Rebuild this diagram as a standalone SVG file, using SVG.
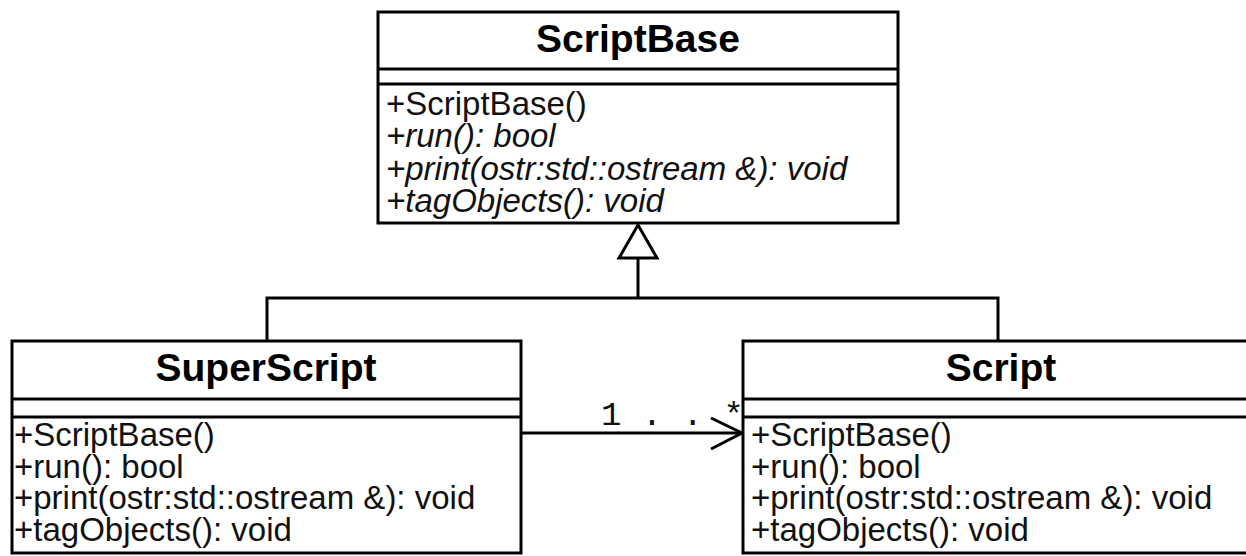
<svg xmlns="http://www.w3.org/2000/svg" width="1246" height="556" viewBox="0 0 1246 556">
  <style>
    .box { fill: #ffffff; stroke: #000; stroke-width: 3; }
    .sep { stroke: #000; stroke-width: 3; fill: none; }
    .title { font-family: "Liberation Sans", Arial, sans-serif; font-weight: bold; font-size: 39px; fill: #000; text-anchor: middle; }
    .op { font-family: "Liberation Sans", Arial, sans-serif; font-size: 33px; fill: #111; }
    .abs { font-style: italic; }
    .edge { stroke: #000; stroke-width: 3; fill: none; }
    .mult { font-family: "Liberation Mono", "Courier New", monospace; font-size: 34px; fill: #111; }
  </style>

  <rect width="1246" height="556" fill="#ffffff"/>

  <!-- connectors -->
  <g id="connectors">
    <!-- generalisation: SuperScript and Script derive from ScriptBase -->
    <polyline class="edge" points="267,341 267,298 998,298 998,341"/>
    <line class="edge" x1="638" y1="298" x2="638" y2="258"/>
    <polygon points="638,225 619,258 657,258" fill="#ffffff" stroke="#000" stroke-width="3" stroke-linejoin="miter"/>
    <!-- directed association SuperScript -> Script -->
    <line class="edge" x1="521" y1="433" x2="742" y2="433"/>
    <polyline class="edge" points="711,418 742,433 711,449"/>
    <text class="mult" x="601" y="425">1 . . *</text>
  </g>

  <!-- abstract base class -->
  <g id="ScriptBase">
    <rect class="box" x="378" y="12" width="520" height="211"/>
    <line class="sep" x1="378" y1="69" x2="898" y2="69"/>
    <line class="sep" x1="378" y1="84" x2="898" y2="84"/>
    <text class="title" x="638" y="52">ScriptBase</text>
    <text class="op" x="386" y="115">+ScriptBase()</text>
    <text class="op abs" x="386" y="147">+run(): bool</text>
    <text class="op abs" x="386" y="180">+print(ostr:std::ostream &amp;): void</text>
    <text class="op abs" x="386" y="212">+tagObjects(): void</text>
  </g>

  <g id="SuperScript">
    <rect class="box" x="12" y="341" width="509" height="212"/>
    <line class="sep" x1="12" y1="399" x2="521" y2="399"/>
    <line class="sep" x1="12" y1="417" x2="521" y2="417"/>
    <text class="title" x="266" y="381">SuperScript</text>
    <text class="op" x="14" y="446">+ScriptBase()</text>
    <text class="op" x="14" y="478">+run(): bool</text>
    <text class="op" x="14" y="509">+print(ostr:std::ostream &amp;): void</text>
    <text class="op" x="14" y="541">+tagObjects(): void</text>
  </g>

  <g id="Script">
    <rect class="box" x="743" y="341" width="520" height="212"/>
    <line class="sep" x1="743" y1="399" x2="1263" y2="399"/>
    <line class="sep" x1="743" y1="417" x2="1263" y2="417"/>
    <text class="title" x="1001" y="381">Script</text>
    <text class="op" x="751" y="446">+ScriptBase()</text>
    <text class="op" x="751" y="478">+run(): bool</text>
    <text class="op" x="751" y="509">+print(ostr:std::ostream &amp;): void</text>
    <text class="op" x="751" y="541">+tagObjects(): void</text>
  </g>
</svg>
